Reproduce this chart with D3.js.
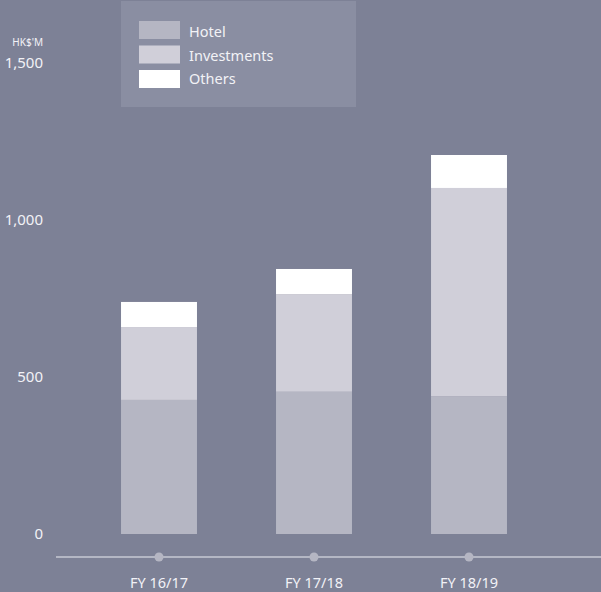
<!DOCTYPE html>
<html><head><meta charset="utf-8">
<script src="https://cdn.jsdelivr.net/npm/d3@7"></script>
<style>
html,body{margin:0;padding:0;background:#7d8196;}
svg{display:block;}
text{font-family:"Noto Sans","Open Sans",sans-serif;}
</style></head>
<body>
<svg id="c" width="601" height="592"></svg>
<script>
const categories = ["FY 16/17", "FY 17/18", "FY 18/19"];
const seriesNames = ["Hotel", "Investments", "Others"];
const hotel = [427, 453, 439];
const investments = [232, 311, 663];
const others = [80, 80, 105];
const yTicks = [0, 500, 1000, 1500];
const unitLabel = "HK$'M";

const colors = {Hotel:"#b5b6c3", Investments:"#d0cfd9", Others:"#ffffff"};
const textColor = "#f2f2f6";
const svg = d3.select("#c");
const W = 601, H = 592;

svg.append("rect").attr("width",W).attr("height",H).attr("fill","#7d8196");

const y = d3.scaleLinear().domain([0,1500]).range([534,63]);
const x = d3.scaleBand().domain(categories).range([81.5,546.5]).paddingInner(0.51).paddingOuter(0.255);

const rows = categories.map((c,i)=>({cat:c, Hotel:hotel[i], Investments:investments[i], Others:others[i]}));
const stack = d3.stack().keys(seriesNames)(rows);

svg.append("g").selectAll("g").data(stack).join("g")
  .attr("fill", d=>colors[d.key])
  .selectAll("rect").data(d=>d).join("rect")
  .attr("x", d=>x(d.data.cat))
  .attr("width", x.bandwidth())
  .attr("y", d=>y(d[1]))
  .attr("height", d=>y(d[0])-y(d[1]));

// y tick labels
svg.append("g").selectAll("text").data(yTicks).join("text")
  .attr("x",43).attr("y",d=>y(d)).attr("dy","0.36em")
  .attr("text-anchor","end").attr("fill",textColor)
  .attr("font-size",15)
  .text(d=>d3.format(",")(d));
svg.append("text").attr("x",43).attr("y",46).attr("text-anchor","end")
  .attr("fill",textColor).attr("font-size",10).text(unitLabel);

// x axis
const axY = 557;
svg.append("line").attr("x1",56).attr("x2",601).attr("y1",axY).attr("y2",axY)
  .attr("stroke","#eceef2").attr("stroke-width",1.2);
svg.append("g").selectAll("circle").data(categories).join("circle")
  .attr("cx",d=>x(d)+x.bandwidth()/2).attr("cy",axY).attr("r",4.5).attr("fill","#b5b6c3");
svg.append("g").selectAll("text").data(categories).join("text")
  .attr("x",d=>x(d)+x.bandwidth()/2).attr("y",588).attr("text-anchor","middle")
  .attr("fill",textColor).attr("font-size",14.5).text(d=>d);

// legend
const lg = svg.append("g");
lg.append("rect").attr("x",121).attr("y",1).attr("width",235).attr("height",106).attr("fill","#8a8ea2");
seriesNames.forEach((s,i)=>{
  lg.append("rect").attr("x",139).attr("y",21+i*24.5).attr("width",41).attr("height",18).attr("fill",colors[s]);
  lg.append("text").attr("x",189).attr("y",37+i*23.5).attr("fill",textColor)
    .attr("font-size",14.5).text(s);
});
</script>
</body></html>
